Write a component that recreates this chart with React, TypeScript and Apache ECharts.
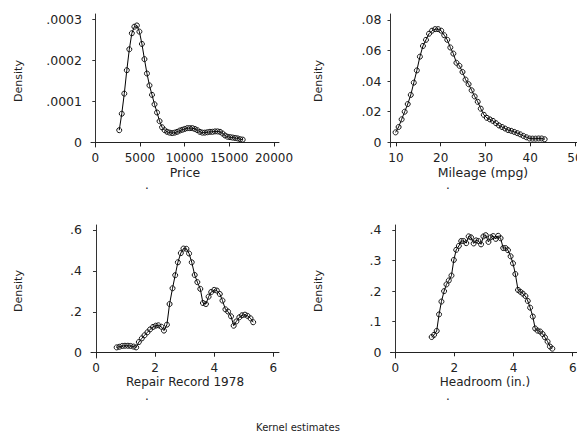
import React, { useEffect, useRef } from "react";
import * as echarts from "echarts";

// ---------- data ----------
const priceX = [
  2680, 2962, 3244, 3526, 3808, 4090, 4372, 4654, 4936, 5218,
  5500, 5782, 6064, 6346, 6628, 6910, 7192, 7474, 7756, 8038,
  8320, 8602, 8884, 9166, 9448, 9730, 10012, 10294, 10576, 10858,
  11140, 11422, 11704, 11986, 12268, 12550, 12832, 13114, 13396, 13678,
  13960, 14242, 14524, 14806, 15088, 15370, 15652, 15934, 16216, 16498,
];
const priceY = [
  0.000030, 0.000070, 0.000119, 0.000176, 0.000227, 0.000266, 0.000282, 0.000285, 0.000270, 0.000240,
  0.000203, 0.000168, 0.000139, 0.000116, 0.000093, 0.000073, 0.000052, 0.000037, 0.000030, 0.000026,
  0.000024, 0.000023, 0.000024, 0.000026, 0.000029, 0.000031, 0.000033, 0.000035, 0.000035, 0.000035,
  0.000033, 0.000030, 0.000026, 0.000024, 0.000024, 0.000025, 0.000026, 0.000026, 0.000027, 0.000027,
  0.000026, 0.000022, 0.000017, 0.000014, 0.000013, 0.000012, 0.000011, 0.000010, 0.000008, 0.000007,
];

const mpgX = [
  9.90, 10.58, 11.26, 11.94, 12.62, 13.30, 13.98, 14.66, 15.34, 16.02,
  16.70, 17.38, 18.06, 18.74, 19.42, 20.10, 20.78, 21.46, 22.14, 22.82,
  23.50, 24.18, 24.86, 25.54, 26.22, 26.90, 27.58, 28.26, 28.94, 29.62,
  30.30, 30.98, 31.66, 32.34, 33.02, 33.70, 34.38, 35.06, 35.74, 36.42,
  37.10, 37.78, 38.46, 39.14, 39.82, 40.50, 41.18, 41.86, 42.54, 43.22,
];
const mpgY = [
  0.0065, 0.0100, 0.0150, 0.0200, 0.0250, 0.0310, 0.0390, 0.0470, 0.0560, 0.0630,
  0.0670, 0.0710, 0.0730, 0.0740, 0.0740, 0.0730, 0.0700, 0.0670, 0.0620, 0.0580,
  0.0520, 0.0500, 0.0460, 0.0410, 0.0380, 0.0340, 0.0300, 0.0265, 0.0220, 0.0180,
  0.0160, 0.0150, 0.0140, 0.0125, 0.0110, 0.0100, 0.0090, 0.0080, 0.0075, 0.0068,
  0.0060, 0.0052, 0.0042, 0.0033, 0.0025, 0.0024, 0.0024, 0.0025, 0.0025, 0.0020,
];

const repX = [
  0.70, 0.79, 0.89, 0.98, 1.08, 1.17, 1.27, 1.36, 1.45, 1.55,
  1.64, 1.74, 1.83, 1.93, 2.02, 2.11, 2.21, 2.30, 2.40, 2.49,
  2.59, 2.68, 2.77, 2.87, 2.96, 3.06, 3.15, 3.24, 3.34, 3.43,
  3.53, 3.62, 3.72, 3.81, 3.90, 4.00, 4.09, 4.19, 4.28, 4.38,
  4.47, 4.57, 4.66, 4.75, 4.85, 4.94, 5.04, 5.13, 5.23, 5.32,
];
const repY = [
  0.026, 0.029, 0.033, 0.034, 0.034, 0.033, 0.030, 0.026, 0.052, 0.070,
  0.085, 0.100, 0.114, 0.126, 0.132, 0.134, 0.127, 0.108, 0.137, 0.238,
  0.315, 0.379, 0.442, 0.487, 0.509, 0.508, 0.485, 0.442, 0.380, 0.345,
  0.312, 0.243, 0.238, 0.274, 0.297, 0.307, 0.304, 0.287, 0.255, 0.212,
  0.201, 0.178, 0.132, 0.153, 0.173, 0.183, 0.186, 0.180, 0.168, 0.149,
];

const headX = [
  1.23, 1.31, 1.40, 1.48, 1.56, 1.65, 1.73, 1.81, 1.90, 1.98,
  2.06, 2.15, 2.23, 2.31, 2.40, 2.48, 2.56, 2.65, 2.73, 2.81,
  2.90, 2.98, 3.06, 3.15, 3.23, 3.31, 3.40, 3.48, 3.56, 3.65,
  3.73, 3.81, 3.90, 3.98, 4.06, 4.15, 4.23, 4.31, 4.40, 4.48,
  4.56, 4.65, 4.73, 4.81, 4.90, 4.98, 5.06, 5.15, 5.23, 5.31,
];
const headY = [
  0.050, 0.057, 0.070, 0.124, 0.166, 0.200, 0.222, 0.235, 0.251, 0.302,
  0.335, 0.348, 0.364, 0.364, 0.357, 0.379, 0.376, 0.356, 0.366, 0.364,
  0.353, 0.379, 0.383, 0.361, 0.376, 0.380, 0.371, 0.381, 0.373, 0.341,
  0.341, 0.334, 0.314, 0.291, 0.256, 0.204, 0.198, 0.192, 0.184, 0.168,
  0.146, 0.117, 0.078, 0.071, 0.068, 0.060, 0.049, 0.035, 0.019, 0.012,
];

const priceTicksX = [0, 5000, 10000, 15000, 20000];
const priceTicksY = [0, 0.0001, 0.0002, 0.0003];
const mpgTicksX = [10, 20, 30, 40, 50];
const mpgTicksY = [0, 0.02, 0.04, 0.06, 0.08];
const repTicksX = [0, 2, 4, 6];
const repTicksY = [0, 0.2, 0.4, 0.6];
const headTicksX = [0, 2, 4, 6];
const headTicksY = [0, 0.1, 0.2, 0.3, 0.4];

const xTitles = ["Price", "Mileage (mpg)", "Repair Record 1978", "Headroom (in.)"];
const yTitle = "Density";
const caption = "Kernel estimates";

// ---------- chart ----------
const FONT = "DejaVu Sans";
const TXT = "#222";

const fmtY = (v: number) => {
  if (v === 0) return "0";
  const s = String(Number(v.toFixed(6)));
  return s.replace(/^0\./, ".");
};

function xAxisDef(grid: number, min: number, max: number, ticks: number[], margin: number) {
  return {
    type: "value",
    gridIndex: grid,
    min,
    max,
    splitLine: { show: false },
    axisLine: { show: true, lineStyle: { color: "#222", width: 1 } },
    axisTick: { show: true, length: 4, customValues: ticks, lineStyle: { color: "#222" } },
    axisLabel: {
      show: true,
      customValues: ticks,
      margin,
      color: TXT,
      fontFamily: FONT,
      fontSize: 12,
      hideOverlap: false,
      formatter: (v: number) => String(v),
    },
  };
}

function yAxisDef(grid: number, min: number, max: number, ticks: number[]) {
  return {
    type: "value",
    gridIndex: grid,
    min,
    max,
    splitLine: { show: false },
    axisLine: { show: true, lineStyle: { color: "#333", width: 1 } },
    axisTick: { show: true, length: 3, customValues: ticks, lineStyle: { color: "#333" } },
    axisLabel: {
      show: true,
      customValues: ticks,
      margin: 9,
      color: TXT,
      fontFamily: FONT,
      fontSize: 12.5,
      formatter: (v: number) => fmtY(v),
    },
  };
}

function seriesDef(idx: number, xs: number[], ys: number[]) {
  return {
    type: "line",
    xAxisIndex: idx,
    yAxisIndex: idx,
    data: xs.map((x, i) => [x, ys[i]]),
    symbol: "circle",
    symbolSize: 5,
    showSymbol: true,
    lineStyle: { color: "#000", width: 1 },
    itemStyle: { color: "rgba(0,0,0,0)", borderColor: "#111", borderWidth: 1 },
    emphasis: { disabled: true },
    silent: true,
  };
}

function txt(x: number, y: number, text: string, size: number, rotate = false) {
  return {
    type: "text",
    x,
    y,
    rotation: rotate ? Math.PI / 2 : 0,
    style: {
      text,
      fill: TXT,
      fontFamily: FONT,
      fontSize: size,
      textAlign: "center",
      textVerticalAlign: "middle",
    },
  };
}

export default function App() {
  const ref = useRef<HTMLDivElement>(null);
  useEffect(() => {
    if (!ref.current) return;
    const chart = echarts.init(ref.current, null, { renderer: "svg" });
    const g = (left: number, top: number, width: number) => ({
      left,
      top,
      width,
      height: 133,
      containLabel: false,
      outerBoundsMode: "none",
    });
    const option = {
      animation: false,
      backgroundColor: "#fff",
      grid: [g(91, 14, 188), g(390.5, 14, 190), g(91, 225, 188), g(390.5, 225, 190)],
      xAxis: [
        xAxisDef(0, -481, 20560, priceTicksX, 5),
        xAxisDef(1, 8.771, 51.23, mpgTicksX, 5),
        xAxisDef(2, -0.169, 6.193, repTicksX, 4),
        xAxisDef(3, -0.162, 6.263, headTicksX, 4),
      ],
      yAxis: [
        yAxisDef(0, -0.00001096, 0.0003129, priceTicksY),
        yAxisDef(1, -0.00307, 0.0839, mpgTicksY),
        yAxisDef(2, -0.0259, 0.6244, repTicksY),
        yAxisDef(3, -0.0186, 0.4163, headTicksY),
      ],
      series: [
        seriesDef(0, priceX, priceY),
        seriesDef(1, mpgX, mpgY),
        seriesDef(2, repX, repY),
        seriesDef(3, headX, headY),
      ],
      graphic: [
        txt(18, 81, yTitle, 11, true),
        txt(318, 81, yTitle, 11, true),
        txt(18, 291, yTitle, 11, true),
        txt(318, 291, yTitle, 11, true),
        txt(185, 172, xTitles[0], 12.5),
        txt(483, 172, xTitles[1], 12.5),
        txt(185, 382, xTitles[2], 12),
        txt(485, 382, xTitles[3], 12),
        txt(147, 185, ".", 12),
        txt(448, 185, ".", 12),
        txt(147, 396, ".", 12),
        txt(448, 396, ".", 12),
        txt(298, 427, caption, 10),
      ],
    };
    chart.setOption(option as any);
    return () => chart.dispose();
  }, []);
  return (
    <div
      ref={ref}
      style={{ position: "absolute", left: 0, top: 0, width: 577, height: 433, background: "#fff" }}
    />
  );
}
